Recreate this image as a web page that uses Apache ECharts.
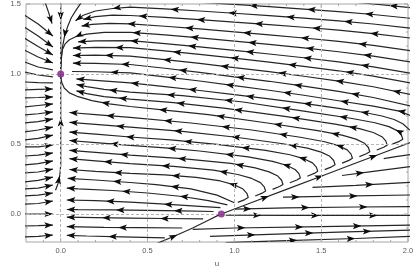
<!DOCTYPE html>
<html><head><meta charset="utf-8">
<script src="https://cdn.jsdelivr.net/npm/echarts/dist/echarts.min.js"></script>
<style>html,body{margin:0;padding:0;background:#fff}#c{width:415px;height:268px}</style>
</head><body><div id="c"></div>
<script>
// ---------- data (u, v) ----------
const uTicks = [0, 0.5, 1.0, 1.5, 2.0];
const vTicks = [0, 0.5, 1.0, 1.5];
const uMinor = [-0.1, 0.1, 0.2, 0.3, 0.4, 0.6, 0.7, 0.8, 0.9, 1.1, 1.2, 1.3, 1.4, 1.6, 1.7, 1.8, 1.9];
const vMinor = [-0.1, 0.1, 0.2, 0.3, 0.4, 0.6, 0.7, 0.8, 0.9, 1.1, 1.2, 1.3, 1.4];
const gridU = [0, 0.5, 1.0, 1.5];
const gridV = [0, 0.5, 1.0];
const fixedPoints = [[0, 1], [0.925, 0]];

// streamlines left of u = 0 (flowing right)
const leftStrip = [
  [[-0.095,1.53],[-0.07,1.44],[-0.05,1.36]],
  [[-0.21,1.421],[-0.13,1.357],[-0.045,1.271]],
  [[-0.21,1.336],[-0.13,1.271],[-0.045,1.193]],
  [[-0.21,1.257],[-0.13,1.196],[-0.045,1.136]],
  [[-0.21,1.171],[-0.13,1.121],[-0.045,1.079]],
  [[-0.21,1.086],[-0.13,1.05],[-0.045,1.029]],
  [[-0.21,1.014],[-0.13,0.993],[-0.045,0.979]],
  [[-0.21,0.943],[-0.13,0.939],[-0.045,0.936]],
  [[-0.21,0.886],[-0.13,0.89],[-0.045,0.893]],
  [[-0.21,0.829],[-0.13,0.832],[-0.045,0.836]],
  [[-0.21,0.764],[-0.13,0.775],[-0.045,0.786]],
  [[-0.21,0.707],[-0.13,0.716],[-0.045,0.729]],
  [[-0.21,0.65],[-0.13,0.66],[-0.045,0.679]],
  [[-0.21,0.586],[-0.13,0.60],[-0.045,0.621]],
  [[-0.21,0.529],[-0.13,0.54],[-0.045,0.564]],
  [[-0.21,0.479],[-0.13,0.48],[-0.045,0.493]],
  [[-0.21,0.414],[-0.13,0.42],[-0.045,0.436]],
  [[-0.21,0.35],[-0.13,0.36],[-0.045,0.379]],
  [[-0.21,0.293],[-0.13,0.30],[-0.045,0.321]],
  [[-0.21,0.229],[-0.13,0.24],[-0.045,0.264]],
  [[-0.21,0.179],[-0.13,0.185],[-0.045,0.207]],
  [[-0.21,0.129],[-0.13,0.135],[-0.045,0.15]],
  [[-0.21,0.071],[-0.13,0.075],[-0.045,0.093]],
  [[-0.21,0.0],[-0.13,0.0],[-0.045,0.0]],
  [[-0.21,-0.086],[-0.13,-0.083],[-0.045,-0.079]],
  [[-0.21,-0.164],[-0.13,-0.16],[-0.045,-0.15]]
];

// streamlines entering from the right / top edge (flowing left)
const topLines = [
  [[2.02,1.473],[1.9,1.488],[1.8,1.5],[1.7,1.512]],
  [[2.02,1.397],[1.8,1.425],[1.6,1.446],[1.4,1.464],[1.2,1.481],[1.0,1.497],[0.8,1.512]],
  [[2.02,1.327],[1.8,1.357],[1.6,1.38],[1.4,1.399],[1.2,1.417],[1.0,1.434],[0.8,1.45],[0.6,1.465],[0.4,1.477],[0.3,1.468],[0.2,1.45],[0.13,1.42],[0.085,1.38]],
  [[2.02,1.256],[1.8,1.289],[1.6,1.313],[1.4,1.334],[1.2,1.353],[1.0,1.37],[0.8,1.388],[0.6,1.404],[0.4,1.418],[0.3,1.42],[0.2,1.41],[0.13,1.39]],
  [[2.02,1.165],[1.8,1.204],[1.6,1.233],[1.4,1.257],[1.2,1.28],[1.0,1.301],[0.8,1.322],[0.6,1.341],[0.4,1.358],[0.28,1.362],[0.18,1.355],[0.12,1.342]],
  [[2.02,1.085],[1.8,1.128],[1.6,1.159],[1.4,1.187],[1.2,1.212],[1.0,1.235],[0.8,1.258],[0.6,1.279],[0.4,1.298],[0.25,1.297],[0.15,1.285],[0.09,1.268],[0.05,1.245],[0.025,1.215],[0.01,1.175],[0.003,1.12],[0,1.05]],
  [[2.02,1.005],[1.8,1.051],[1.6,1.086],[1.4,1.116],[1.2,1.143],[1.0,1.169],[0.8,1.194],[0.6,1.217],[0.4,1.238],[0.2,1.236],[0.1,1.23]],
  [[2.02,0.934],[1.8,0.985],[1.6,1.023],[1.4,1.055],[1.2,1.085],[1.0,1.113],[0.8,1.14],[0.6,1.165],[0.4,1.188],[0.2,1.19],[0.07,1.185]],
  [[2.02,0.852],[1.8,0.909],[1.6,0.949],[1.4,0.984],[1.2,1.017],[1.0,1.046],[0.8,1.076],[0.6,1.103],[0.4,1.128],[0.2,1.135],[0.07,1.132]],
  [[2.02,0.77],[1.8,0.832],[1.6,0.876],[1.4,0.913],[1.2,0.948],[1.0,0.98],[0.8,1.012],[0.6,1.041],[0.4,1.068],[0.2,1.076],[0.07,1.077]],
  [[2.02,0.70],[1.95,0.735],[1.8,0.77],[1.6,0.809],[1.4,0.848],[1.2,0.884],[1.0,0.917],[0.8,0.95],[0.6,0.98],[0.4,1.008],[0.2,1.016],[0.065,1.018]],
  [[2.01,0.6],[1.97,0.645],[1.92,0.675],[1.85,0.70],[1.75,0.725],[1.6,0.755],[1.4,0.79],[1.2,0.822],[1.0,0.852],[0.8,0.882],[0.6,0.91],[0.4,0.937],[0.2,0.955],[0.09,0.965]]
];

// curves that run up along the separatrix, turn, and flow left
const noseCurves = [
  [[1.02,0.083],[1.06,0.103],[1.08,0.118],[1.072,0.148],[1.05,0.178],[1.0,0.208],[0.92,0.236],[0.78,0.262],[0.6,0.279],[0.4,0.29],[0.2,0.305],[0.05,0.318]],
  [[1.12,0.129],[1.16,0.149],[1.18,0.164],[1.172,0.194],[1.15,0.224],[1.10,0.254],[1.02,0.282],[0.88,0.314],[0.65,0.34],[0.4,0.36],[0.2,0.38],[0.05,0.395]],
  [[1.22,0.176],[1.26,0.196],[1.28,0.211],[1.272,0.241],[1.25,0.271],[1.2,0.301],[1.12,0.329],[0.98,0.361],[0.7,0.395],[0.4,0.42],[0.2,0.44],[0.05,0.455]],
  [[1.32,0.223],[1.36,0.243],[1.38,0.258],[1.372,0.288],[1.35,0.318],[1.3,0.348],[1.22,0.376],[1.08,0.408],[0.8,0.45],[0.6,0.472],[0.4,0.49],[0.2,0.51],[0.05,0.525]],
  [[1.42,0.27],[1.46,0.29],[1.48,0.305],[1.472,0.335],[1.45,0.365],[1.4,0.395],[1.32,0.423],[1.18,0.455],[0.9,0.497],[0.65,0.527],[0.4,0.55],[0.2,0.57],[0.05,0.585]],
  [[1.52,0.317],[1.56,0.337],[1.58,0.352],[1.572,0.382],[1.55,0.412],[1.5,0.442],[1.42,0.47],[1.28,0.502],[1.0,0.55],[0.7,0.59],[0.4,0.62],[0.2,0.64],[0.05,0.655]],
  [[1.62,0.363],[1.66,0.383],[1.68,0.398],[1.672,0.428],[1.65,0.458],[1.6,0.488],[1.52,0.516],[1.38,0.548],[1.1,0.6],[0.75,0.65],[0.4,0.69],[0.2,0.71],[0.05,0.725]],
  [[1.72,0.41],[1.76,0.43],[1.78,0.445],[1.772,0.475],[1.75,0.505],[1.7,0.535],[1.62,0.563],[1.48,0.595],[1.2,0.648],[0.85,0.71],[0.6,0.742],[0.4,0.768],[0.28,0.787],[0.18,0.81],[0.1,0.838],[0.05,0.865],[0.02,0.9],[0.006,0.94],[0,0.985]],
  [[1.82,0.457],[1.86,0.477],[1.88,0.492],[1.872,0.522],[1.85,0.552],[1.8,0.582],[1.72,0.61],[1.58,0.642],[1.3,0.695],[0.95,0.755],[0.65,0.795],[0.4,0.82],[0.25,0.838],[0.15,0.86],[0.09,0.88]],
  [[1.91,0.499],[1.95,0.519],[1.97,0.534],[1.962,0.564],[1.94,0.594],[1.89,0.624],[1.81,0.652],[1.67,0.684],[1.4,0.735],[1.05,0.8],[0.7,0.845],[0.4,0.87],[0.25,0.89],[0.15,0.91],[0.09,0.925]]
];

// lines leaving the saddle to the left
const saddleLines = [
  [[0.88,0.018],[0.7,0.022],[0.5,0.026],[0.3,0.029],[0.1,0.031],[0.035,0.032]],
  [[0.92,0.045],[0.8,0.055],[0.6,0.07],[0.4,0.085],[0.2,0.095],[0.035,0.1]],
  [[0.96,0.065],[0.85,0.095],[0.7,0.125],[0.5,0.15],[0.3,0.168],[0.1,0.18],[0.035,0.185]],
  [[1.0,0.08],[0.9,0.135],[0.75,0.18],[0.55,0.21],[0.4,0.225],[0.2,0.243],[0.04,0.255]]
];

// lower left lines (flowing left)
const bottomLines = [
  [[0.82,-0.035],[0.6,-0.032],[0.4,-0.029],[0.2,-0.026],[0.035,-0.023]],
  [[0.7,-0.1],[0.45,-0.098],[0.25,-0.095],[0.035,-0.09]],
  [[0.6,-0.17],[0.35,-0.163],[0.15,-0.157],[0.035,-0.152]]
];

// lines below the separatrix (flowing right)
const rightLines = [
  [[1.86,0.395],[1.93,0.41],[2.02,0.425]],
  [[1.62,0.275],[1.8,0.305],[2.02,0.34]],
  [[1.45,0.19],[1.7,0.205],[2.02,0.227]],
  [[1.28,0.12],[1.6,0.127],[2.02,0.136]],
  [[1.0,0.035],[1.3,0.044],[1.7,0.05],[2.02,0.053]],
  [[0.95,-0.008],[1.3,-0.01],[1.7,-0.01],[2.02,-0.01]],
  [[0.76,-0.11],[1.0,-0.1],[1.5,-0.09],[2.02,-0.08]],
  [[0.86,-0.16],[1.2,-0.145],[1.6,-0.13],[2.02,-0.115]],
  [[0.95,-0.205],[1.3,-0.19],[1.7,-0.175],[2.02,-0.16]]
];

// separatrices through the saddle
const manifolds = [
  [[0.555,-0.21],[0.66,-0.155],[0.76,-0.1],[0.85,-0.045],[0.912,-0.006]],
  [[0.94,0.007],[1.1,0.082],[1.3,0.176],[1.5,0.27],[1.7,0.364],[1.85,0.434],[2.02,0.513]]
];

// lines along u = 0 into the node
const axisLines = [
  [[0,1.52],[0,1.3],[0,1.1],[0,1.01]],
  [[-0.03,0.17],[-0.015,0.22],[-0.005,0.28],[0,0.35],[0,0.45],[0,0.6],[0,0.75],[0,0.9],[0,0.99]],
  [[0.13,1.53],[0.09,1.46],[0.06,1.40],[0.04,1.34],[0.022,1.27],[0.01,1.19],[0.003,1.1],[0,1.03]]
];

// ---------- chart ----------
const streams = [].concat(leftStrip, topLines, noseCurves, saddleLines, bottomLines, rightLines, manifolds, axisLines);
const U_MIN = -0.2, U_MAX = 2.0, V_MIN = -0.2, V_MAX = 1.5;
const LINE_COLOR = '#262626', ARROW_COLOR = '#0d0d0d', FRAME = '#a6a6a6', TEXT = '#595959';
const ARROW_GAP = 58, ARROW_LEN = 8.5, ARROW_HALF = 3.1;
const FONT = 'Liberation Sans, Arial, sans-serif';

const isTick = (arr, v) => arr.some(t => Math.abs(t - v) < 1e-6);

function arrowItems(params, api) {
  const s = streams[params.dataIndex];
  const pts = s.map(p => api.coord(p));
  const seg = []; let total = 0;
  for (let k = 1; k < pts.length; k++) {
    const L = Math.hypot(pts[k][0] - pts[k-1][0], pts[k][1] - pts[k-1][1]);
    seg.push(L); total += L;
  }
  const cs = params.coordSys;
  const inside = (x, y) => x >= cs.x + 1 && x <= cs.x + cs.width - 1 && y >= cs.y + 1 && y <= cs.y + cs.height - 1;
  const end = pts[pts.length - 1];
  const nearFixed = fixedPoints.some(f => { const c = api.coord(f); return Math.hypot(c[0] - end[0], c[1] - end[1]) < 12; });
  const dists = [];
  if (!nearFixed) dists.push(0);
  const phase = ARROW_GAP * (0.55 + 0.45 * ((params.dataIndex * 0.618) % 1));
  for (let d = phase; d < total - 12; d += ARROW_GAP) dists.push(d);
  const children = [];
  dists.forEach(d => {
    const target = total - d;
    let acc = 0;
    for (let k = 0; k < seg.length; k++) {
      if (acc + seg[k] >= target - 1e-9 && seg[k] > 0) {
        const t = (target - acc) / seg[k];
        const x = pts[k][0] + t * (pts[k+1][0] - pts[k][0]);
        const y = pts[k][1] + t * (pts[k+1][1] - pts[k][1]);
        if (!inside(x, y)) break;
        const a = Math.atan2(pts[k+1][1] - pts[k][1], pts[k+1][0] - pts[k][0]);
        const c = Math.cos(a), sn = Math.sin(a);
        const bx = x - ARROW_LEN * c, by = y - ARROW_LEN * sn;
        const nx = x - ARROW_LEN * 0.78 * c, ny = y - ARROW_LEN * 0.78 * sn;
        children.push({
          type: 'polygon',
          shape: { points: [[x, y], [bx - ARROW_HALF * sn, by + ARROW_HALF * c], [nx, ny], [bx + ARROW_HALF * sn, by - ARROW_HALF * c]] },
          style: { fill: ARROW_COLOR }
        });
        break;
      }
      acc += seg[k];
    }
  });
  return { type: 'group', children };
}

function frameTicks(params, api) {
  const children = [];
  const add = (p, dx, dy, len) => children.push({ type: 'line', shape: { x1: p[0], y1: p[1], x2: p[0] + dx * len, y2: p[1] + dy * len }, style: { stroke: FRAME, lineWidth: 1 } });
  uTicks.forEach(u => { add(api.coord([u, V_MIN]), 0, -1, 4); add(api.coord([u, V_MAX]), 0, 1, 4); });
  uMinor.forEach(u => { add(api.coord([u, V_MIN]), 0, -1, 2); add(api.coord([u, V_MAX]), 0, 1, 2); });
  vTicks.forEach(v => { add(api.coord([U_MIN, v]), 1, 0, 4); add(api.coord([U_MAX, v]), -1, 0, 4); });
  vMinor.forEach(v => { add(api.coord([U_MIN, v]), 1, 0, 2); add(api.coord([U_MAX, v]), -1, 0, 2); });
  return { type: 'group', children };
}

const series = [];
series.push({
  type: 'line', data: [], silent: true, z: 1,
  markLine: {
    silent: true, symbol: ['none', 'none'], label: { show: false }, animation: false,
    lineStyle: { color: '#b5b5b5', type: [3, 2], width: 1 },
    emphasis: { disabled: true },
    data: gridU.map(u => ({ xAxis: u })).concat(gridV.map(v => ({ yAxis: v })))
  }
});
streams.forEach(s => series.push({
  type: 'line', data: s, showSymbol: false, symbol: 'none', silent: true, z: 2, clip: true,
  lineStyle: { color: LINE_COLOR, width: 1.2 }, emphasis: { disabled: true }, animation: false
}));
series.push({
  type: 'custom', z: 3, silent: true, clip: true, animation: false,
  data: streams.map(s => [s[0][0], s[0][1]]), renderItem: arrowItems
});
series.push({
  type: 'custom', z: 4, silent: true, animation: false,
  data: [[0, 0]], renderItem: frameTicks
});
series.push({
  type: 'scatter', z: 5, silent: true, data: fixedPoints, symbolSize: 7,
  itemStyle: { color: '#7d1a82' }, animation: false
});

const chart = echarts.init(document.getElementById('c'));
chart.setOption({
  animation: false,
  backgroundColor: '#ffffff',
  grid: { left: 26, right: 7, top: 4, bottom: 26, containLabel: false, outerBoundsMode: 'none',
    show: true, borderColor: FRAME, borderWidth: 1, backgroundColor: 'transparent' },
  xAxis: {
    type: 'value', min: U_MIN, max: U_MAX, interval: 0.1,
    name: 'u', nameLocation: 'middle', nameGap: 18,
    nameTextStyle: { fontSize: 8, color: TEXT, fontFamily: FONT },
    axisLine: { show: false }, axisTick: { show: false }, splitLine: { show: false },
    axisLabel: { fontSize: 7.5, color: TEXT, fontFamily: FONT, margin: 5,
      formatter: v => isTick(uTicks, v) ? v.toFixed(1) : '' }
  },
  yAxis: {
    type: 'value', min: V_MIN, max: V_MAX, interval: 0.1,
    name: 'v', nameLocation: 'middle', nameGap: 19,
    nameTextStyle: { fontSize: 8, color: TEXT, fontFamily: FONT },
    axisLine: { show: false }, axisTick: { show: false }, splitLine: { show: false },
    axisLabel: { fontSize: 7.5, color: TEXT, fontFamily: FONT, margin: 5,
      formatter: v => isTick(vTicks, v) ? v.toFixed(1) : '' }
  },
  series
});
</script></body></html>
